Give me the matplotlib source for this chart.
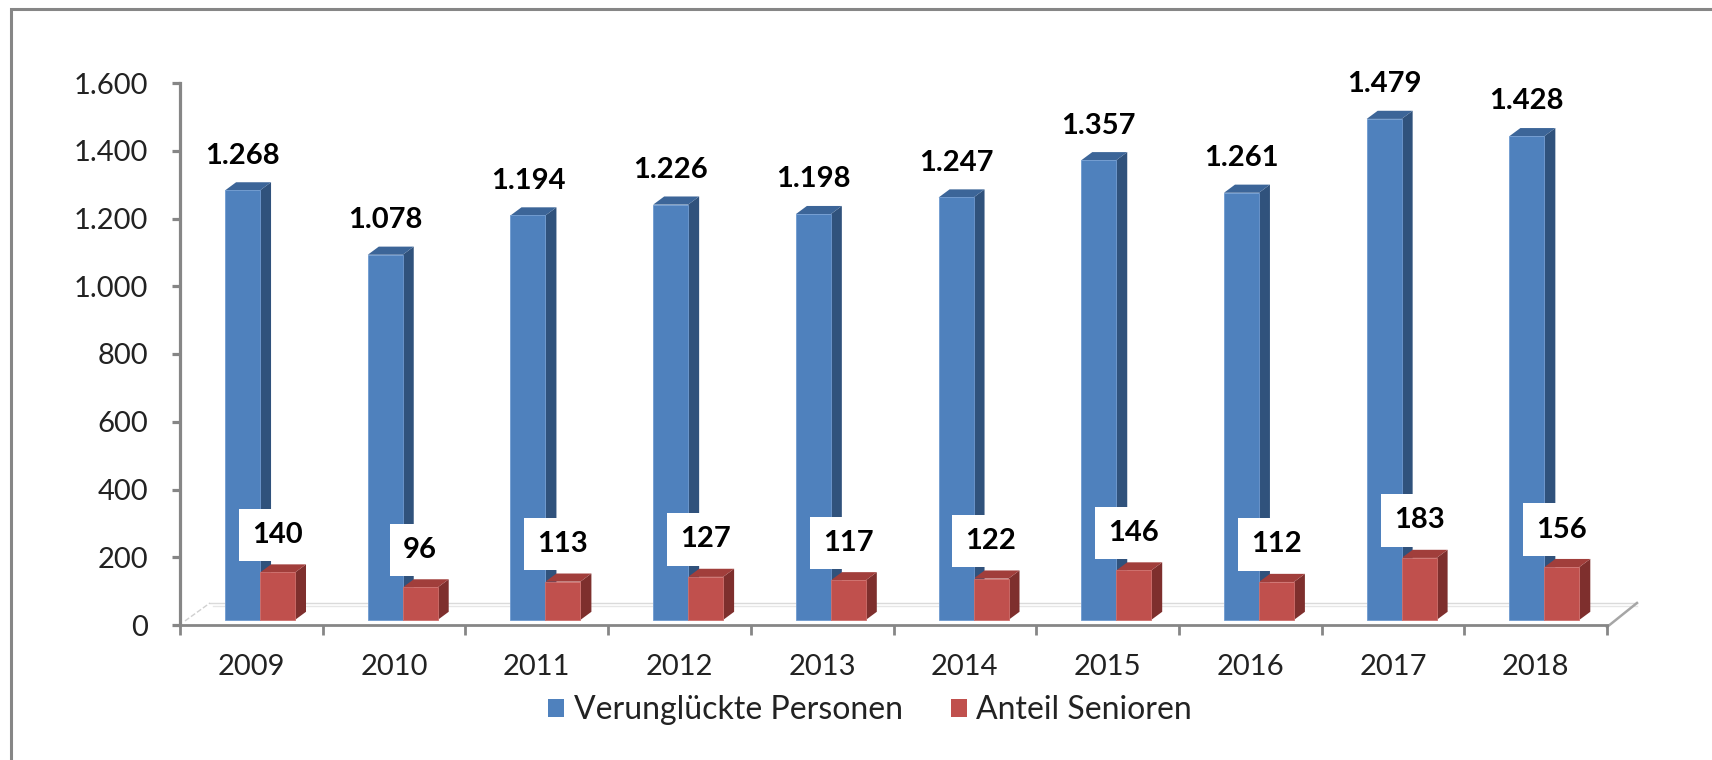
import numpy as np
import matplotlib
matplotlib.use("Agg")
import matplotlib.pyplot as plt
from matplotlib.patches import Polygon, Patch, Rectangle
from matplotlib.ticker import FuncFormatter, FixedLocator

plt.rcParams['font.family'] = ['Lato', 'DejaVu Sans']

# Daten
jahre = ['2009', '2010', '2011', '2012', '2013', '2014', '2015', '2016', '2017', '2018']
verunglueckte = [1268, 1078, 1194, 1226, 1198, 1247, 1357, 1261, 1479, 1428]
senioren = [140, 96, 113, 127, 117, 122, 146, 112, 183, 156]
serien = ['Verunglückte Personen', 'Anteil Senioren']

# Farben (front, seite, oben)
blau = ('#4F81BD', '#30527C', '#3C6598')
rot = ('#C0504D', '#7E2F2D', '#A13E3B')
grau = '#868686'

W, H = 1712, 760
fig = plt.figure(figsize=(W / 100, H / 100), dpi=100)
ax = fig.add_axes([180 / W, (H - 625) / H, 1427 / W, 542 / H])
ax.set_xlim(-0.5, 9.5)
ax.set_ylim(0, 1600)

# 3D-Optik
breite = 0.245
tiefe_x = 0.077
tiefe_y = 24
boden = 15


def saeule(x0, wert, farben):
    y0 = boden
    y1 = boden + wert
    ax.bar(x0, wert, width=breite, bottom=y0, align='edge', color=farben[0],
           edgecolor='#6F9AD0' if farben is blau else '#CF6F6C', linewidth=0.6, zorder=3)
    seite = [(x0 + breite, y0), (x0 + breite, y1), (x0 + breite + tiefe_x, y1 + tiefe_y),
             (x0 + breite + tiefe_x, y0 + tiefe_y)]
    oben = [(x0, y1), (x0 + breite, y1), (x0 + breite + tiefe_x, y1 + tiefe_y),
            (x0 + tiefe_x, y1 + tiefe_y)]
    ax.add_patch(Polygon(seite, closed=True, facecolor=farben[1], edgecolor='none', zorder=2.9))
    ax.add_patch(Polygon(oben, closed=True, facecolor=farben[2], edgecolor='none', zorder=2.9))


# Boden (hinterer Rand, Seitenkanten)
ax.plot([-0.29, 9.71], [65, 65], color='#DADADA', lw=1.0, clip_on=False, zorder=1)
ax.plot([-0.27, 9.71], [56, 56], color='#E6E6E6', lw=1.0, clip_on=False, zorder=1)
ax.plot([-0.465, -0.29], [12, 65], color='#D0D0D0', lw=1.0, ls='--', clip_on=False, zorder=1)
ax.plot([9.5, 9.71], [-6, 65], color='#A6A6A6', lw=1.8, clip_on=False, zorder=1)

x = np.arange(len(jahre))
for i in x:
    saeule(i - 0.184, verunglueckte[i], blau)
    saeule(i + 0.061, senioren[i], rot)

fmt = lambda v: f"{v:,.0f}".replace(",", ".")

for i in x:
    ax.annotate(fmt(verunglueckte[i]), (i - 0.184 + breite / 2, boden + verunglueckte[i]),
                xytext=(0, 25), textcoords='offset points', ha='center', va='center',
                fontsize=21, fontweight='bold', color='black', zorder=6, annotation_clip=False)
    ax.annotate(fmt(senioren[i]), (i + 0.061 + breite / 2, boden + senioren[i]),
                xytext=(0, 27), textcoords='offset points', ha='center', va='center',
                fontsize=21, fontweight='bold', color='black', zorder=6,
                bbox=dict(boxstyle='square,pad=0.45', facecolor='white', edgecolor='none'))

# Achsen
for s in ['top', 'right']:
    ax.spines[s].set_visible(False)
ax.spines['left'].set_color(grau)
ax.spines['left'].set_linewidth(2.3)
ax.spines['bottom'].set_color(grau)
ax.spines['bottom'].set_linewidth(2.0)

ax.yaxis.set_major_locator(FixedLocator(np.arange(0, 1601, 200)))
ax.yaxis.set_major_formatter(FuncFormatter(lambda v, p: fmt(v)))
ax.tick_params(axis='y', direction='out', length=6, width=2.3, color=grau, pad=17,
               labelsize=21, labelcolor='#222222')

ax.set_xticks(x)
ax.set_xticklabels(jahre)
ax.set_xticks(np.arange(-0.5, 9.6, 1), minor=True)
ax.tick_params(axis='x', which='major', length=0, pad=21, labelsize=21, labelcolor='#222222')
ax.tick_params(axis='x', which='minor', direction='out', length=7, width=2.0, color=grau)

# Legende
handles = [Patch(facecolor=blau[0], edgecolor='none'), Patch(facecolor=rot[0], edgecolor='none')]
fig.legend(handles, serien, loc='center', bbox_to_anchor=(870 / W, 1 - 710 / H), ncol=2,
           frameon=False, fontsize=23, handlelength=0.5, handleheight=0.5,
           handletextpad=0.3, columnspacing=1.5, labelcolor='#222222')

# Rahmen
fig.patches.append(Rectangle((11 / W, -0.1), 1.2, 1.1 - 9 / H, transform=fig.transFigure,
                             fill=False, edgecolor=grau, linewidth=2.2, zorder=0))

fig.savefig('out.png', dpi=100)
